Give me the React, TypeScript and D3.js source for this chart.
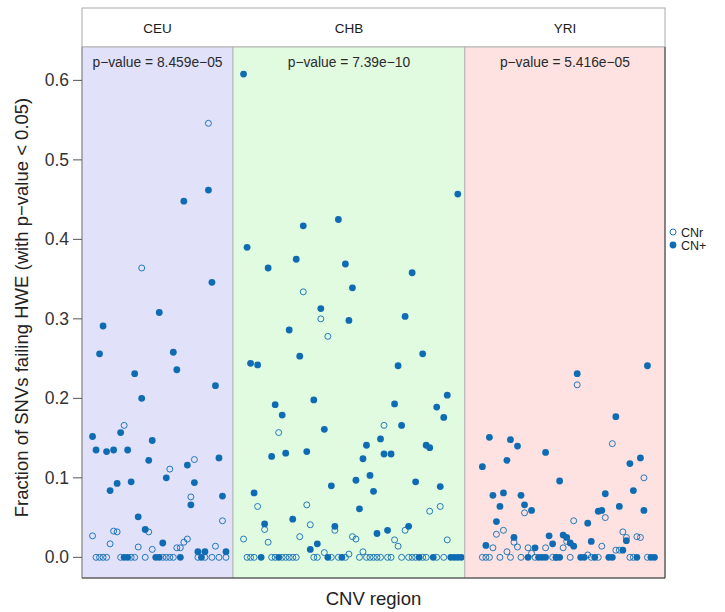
import React from "react";
import * as d3 from "d3";

// populations, in panel order
const populations = ["CEU", "CHB", "YRI"];
const regionCounts = [43, 66, 57];
const pValues = ["8.459e\u221205", "7.39e\u221210", "5.416e\u221205"];
const panelColors = ["#e1e1fa", "#e1fbe1", "#fde2e1"];

// [region index, fraction]
const ceuCNr = [
  [36, 0.546], [17, 0.364], [12, 0.166], [32, 0.123], [25, 0.111], [31, 0.076], [40, 0.046],
  [3, 0.027], [9, 0.033], [10, 0.032], [19, 0.032], [8, 0.017], [16, 0.013], [20, 0.01],
  [27, 0.012], [28, 0.012], [29, 0.019], [30, 0.023], [38, 0.014],
  [4, 0], [5, 0], [6, 0], [7, 0], [11, 0], [14, 0], [15, 0], [18, 0], [23, 0], [24, 0],
  [25, 0], [26, 0], [33, 0], [35, 0], [37, 0], [39, 0], [41, 0],
];
const ceuCNplus = [
  [36, 0.462], [29, 0.448], [37, 0.346], [22, 0.308], [6, 0.291], [5, 0.256], [26, 0.258],
  [15, 0.231], [27, 0.236], [38, 0.216], [17, 0.2], [3, 0.152], [11, 0.157], [4, 0.135],
  [7, 0.133], [9, 0.135], [13, 0.135], [20, 0.147], [19, 0.122], [30, 0.116], [39, 0.125],
  [24, 0.1], [10, 0.093], [8, 0.084], [14, 0.095], [32, 0.094], [31, 0.066], [40, 0.077],
  [16, 0.051], [18, 0.035], [23, 0.018], [33, 0.007], [35, 0.007], [41, 0.007],
  [12, 0], [13, 0], [21, 0], [22, 0], [28, 0], [34, 0],
];

const chbCNr = [
  [20, 0.334], [25, 0.3], [27, 0.278], [13, 0.157], [43, 0.166], [7, 0.064], [21, 0.066],
  [56, 0.058], [59, 0.064], [9, 0.035], [22, 0.041], [29, 0.034], [49, 0.034], [3, 0.023],
  [10, 0.019], [19, 0.026], [34, 0.026], [35, 0.023], [46, 0.022], [47, 0.014], [61, 0.022],
  [26, 0.006], [33, 0.004], [37, 0.007],
  [4, 0], [5, 0], [6, 0], [11, 0], [12, 0], [14, 0], [15, 0], [16, 0], [17, 0], [18, 0],
  [23, 0], [24, 0], [28, 0], [30, 0], [32, 0], [36, 0], [38, 0], [39, 0], [40, 0], [41, 0],
  [42, 0], [44, 0], [45, 0], [48, 0], [50, 0], [51, 0], [52, 0], [54, 0], [55, 0], [58, 0],
  [60, 0],
];
const chbCNplus = [
  [3, 0.608], [64, 0.457], [20, 0.417], [30, 0.425], [4, 0.39], [18, 0.375], [10, 0.364],
  [32, 0.369], [51, 0.358], [34, 0.339], [25, 0.313], [33, 0.298], [49, 0.303], [16, 0.286],
  [5, 0.244], [7, 0.242], [19, 0.253], [54, 0.256], [47, 0.241], [12, 0.192], [14, 0.179],
  [23, 0.198], [46, 0.193], [61, 0.204], [58, 0.189], [60, 0.176], [26, 0.161], [48, 0.166],
  [42, 0.149], [38, 0.141], [55, 0.141], [56, 0.138], [11, 0.127], [15, 0.131], [21, 0.133],
  [37, 0.124], [43, 0.13], [45, 0.13], [39, 0.103], [35, 0.097], [40, 0.083], [52, 0.095],
  [59, 0.089], [28, 0.09], [6, 0.081], [36, 0.061], [17, 0.048], [9, 0.042], [29, 0.039],
  [50, 0.039], [44, 0.034], [41, 0.03], [24, 0.017], [22, 0.01],
  [8, 0], [13, 0], [27, 0], [31, 0], [53, 0], [57, 0], [62, 0], [63, 0], [64, 0], [65, 0],
];

const yriCNr = [
  [32, 0.217], [42, 0.143], [51, 0.1], [17, 0.056], [40, 0.05], [31, 0.046], [9, 0.029],
  [11, 0.034], [14, 0.019], [15, 0.013], [29, 0.02], [45, 0.032], [46, 0.025], [49, 0.026],
  [50, 0.025], [8, 0.012], [12, 0.007], [18, 0.012], [19, 0.005], [23, 0.012], [28, 0.012],
  [39, 0.014], [43, 0.009], [44, 0.009], [35, 0.003],
  [5, 0], [6, 0], [7, 0], [10, 0], [13, 0], [16, 0], [20, 0], [25, 0], [26, 0], [30, 0],
  [36, 0], [38, 0], [47, 0], [48, 0], [52, 0],
];
const yriCNplus = [
  [32, 0.231], [52, 0.241], [43, 0.177], [7, 0.151], [13, 0.148], [15, 0.14], [23, 0.132],
  [12, 0.122], [5, 0.114], [50, 0.125], [47, 0.118], [27, 0.096], [48, 0.084], [8, 0.078],
  [11, 0.081], [16, 0.078], [40, 0.08], [10, 0.064], [17, 0.066], [44, 0.064], [51, 0.059],
  [19, 0.059], [38, 0.058], [39, 0.059], [9, 0.045], [35, 0.043], [14, 0.025], [24, 0.027],
  [28, 0.028], [29, 0.025], [30, 0.018], [31, 0.014], [25, 0.017], [36, 0.02], [46, 0.021],
  [6, 0.015], [20, 0.012], [45, 0.009],
  [18, 0], [21, 0], [22, 0], [23, 0], [26, 0], [27, 0], [33, 0], [34, 0], [37, 0], [41, 0],
  [42, 0], [49, 0], [53, 0], [54, 0],
];

const cnrSeries = [ceuCNr, chbCNr, yriCNr];
const cnPlusSeries = [ceuCNplus, chbCNplus, yriCNplus];

const yTicks = [0, 0.1, 0.2, 0.3, 0.4, 0.5, 0.6];
const pointColor = "#0f6cb3";
const font = "'Liberation Sans', Arial, sans-serif";

const W = 725;
const H = 612;
const plotLeft = 82;
const plotRight = 665;
const stripTop = 8;
const panelTop = 47;
const panelBottom = 578;

export default function App() {
  const total = d3.sum(regionCounts);
  const unit = (plotRight - plotLeft) / total;
  const y = d3.scaleLinear().domain([-0.026, 0.642]).range([panelBottom, panelTop]);

  let acc = plotLeft;
  const panels = populations.map((pop, i) => {
    const left = acc;
    const right = acc + regionCounts[i] * unit;
    acc = right;
    const x = d3.scaleLinear().domain([0, regionCounts[i]]).range([left, right]);
    return { pop, i, left, right, x };
  });

  return (
    <svg width={W} height={H} style={{ position: "absolute", left: 0, top: 0 }} fontFamily={font}>
      <rect width={W} height={H} fill="white" />
      {/* strip */}
      <rect x={plotLeft} y={stripTop} width={plotRight - plotLeft} height={panelTop - stripTop}
        fill="white" stroke="#aaaaaa" strokeWidth={1} />
      {panels.map((p) => (
        <g key={p.pop}>
          <text x={(p.left + p.right) / 2} y={(stripTop + panelTop) / 2 + 5} textAnchor="middle"
            fontSize={13.5} fill="#1a1a1a">{p.pop}</text>
          <rect x={p.left} y={panelTop} width={p.right - p.left} height={panelBottom - panelTop}
            fill={panelColors[p.i]} stroke="#b5b5b5" strokeWidth={1} />
          <text x={(p.left + p.right) / 2} y={67} textAnchor="middle" fontSize={13.8} fill="#2a2a2a">
            {`p\u2212value = ${pValues[p.i]}`}
          </text>
          {cnrSeries[p.i].map((d, k) => (
            <circle key={"r" + k} cx={p.x(d[0])} cy={y(d[1])} r={3} fill="none"
              stroke={pointColor} strokeWidth={0.9} />
          ))}
          {cnPlusSeries[p.i].map((d, k) => (
            <circle key={"p" + k} cx={p.x(d[0])} cy={y(d[1])} r={3.4} fill={pointColor} />
          ))}
        </g>
      ))}
      <line x1={plotRight} x2={plotRight} y1={panelTop} y2={panelBottom} stroke="#333" strokeWidth={1} />
      <line x1={plotLeft} x2={plotLeft} y1={panelTop} y2={panelBottom} stroke="#888" strokeWidth={1} />
      <line x1={plotLeft} x2={plotRight} y1={panelBottom} y2={panelBottom} stroke="#333" strokeWidth={1} />
      {/* y axis */}
      {yTicks.map((t) => (
        <g key={t}>
          <line x1={plotLeft - 9} x2={plotLeft} y1={y(t)} y2={y(t)} stroke="#555" />
          <text x={plotLeft - 13} y={y(t) + 6} textAnchor="end" fontSize={17.5} fill="#333">
            {d3.format(".1f")(t)}
          </text>
        </g>
      ))}
      <text transform={`translate(28,${(panelTop + panelBottom) / 2 - 5}) rotate(-90)`}
        textAnchor="middle" fontSize={18.5} fill="#222">
        Fraction of SNVs failing HWE (with p{"\u2212"}value {"<"} 0.05)
      </text>
      <text x={(plotLeft + plotRight) / 2} y={605} textAnchor="middle" fontSize={18.5} fill="#222">
        CNV region
      </text>
      {/* legend */}
      <circle cx={673} cy={232} r={3} fill="none" stroke={pointColor} strokeWidth={0.9} />
      <circle cx={673} cy={245} r={3.4} fill={pointColor} />
      <text x={681} y={236.5} fontSize={12.5} fill="#222">CNr</text>
      <text x={681} y={249.5} fontSize={12.5} fill="#222">CN+</text>
    </svg>
  );
}
